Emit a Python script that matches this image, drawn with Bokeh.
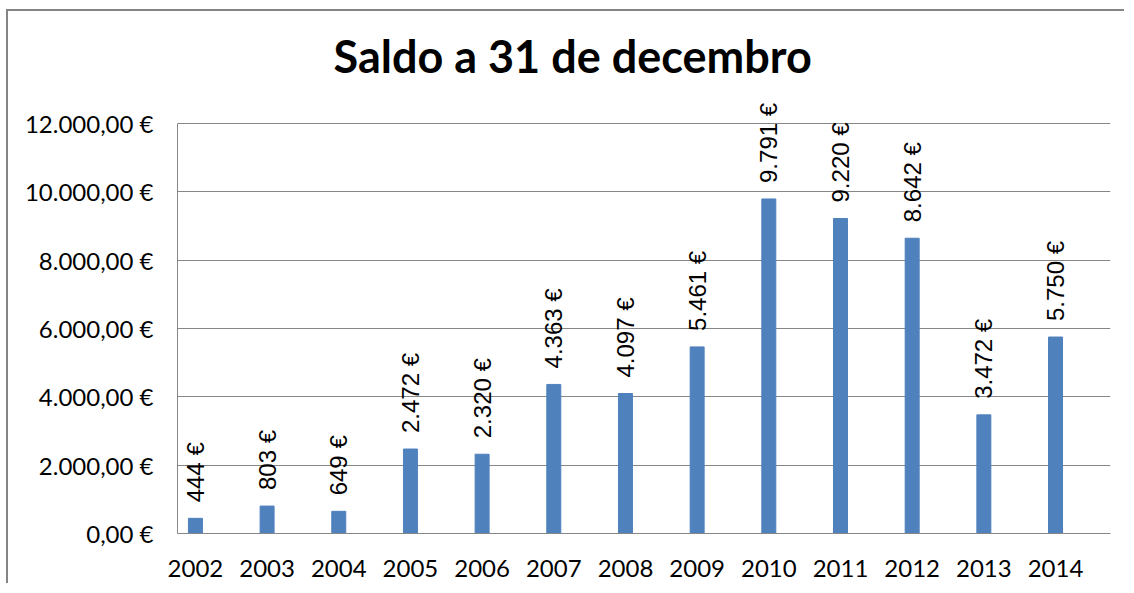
import math
from bokeh.plotting import figure
from bokeh.models import Range1d, FixedTicker, ColumnDataSource
from bokeh.core.properties import value
from bokeh.embed import file_html
from bokeh.resources import INLINE

years = ["2002", "2003", "2004", "2005", "2006", "2007", "2008",
         "2009", "2010", "2011", "2012", "2013", "2014"]
saldo = [444, 803, 649, 2472, 2320, 4363, 4097, 5461, 9791, 9220, 8642, 3472, 5750]
y_ticks = [0, 2000, 4000, 6000, 8000, 10000, 12000]
y_tick_labels = ["0,00 €", "2.000,00 €", "4.000,00 €", "6.000,00 €",
                 "8.000,00 €", "10.000,00 €", "12.000,00 €"]
title_text = "Saldo a 31 de decembro"

def fmt(v):
    return f"{v:,}".replace(",", ".") + " €"

idx = list(range(len(years)))
labels = [fmt(v) for v in saldo]
src = ColumnDataSource(dict(x=idx, y=saldo, lab=labels))

# axis spans 0..12000 over 410 px; extra headroom above 12000 so labels aren't clipped
axis_top = 12000
px_per_unit = 410 / axis_top
y_end = axis_top + 28 / px_per_unit

p = figure(width=1118, height=574, x_range=Range1d(-0.25, len(years) - 1 + 0.767),
           y_range=Range1d(0, y_end), output_backend="svg", toolbar_location=None,
           min_border_left=169, min_border_right=16, min_border_top=84,
           min_border_bottom=52,
           styles={"margin-left": "6px", "margin-top": "9px",
                   "border-left": "2px solid #858585", "border-top": "2px solid #858585"})
p.outline_line_color = None
p.background_fill_color = "white"
p.border_fill_color = "white"

p.title.text = title_text
p.title.text_font = "Lato"
p.title.text_font_style = "bold"
p.title.text_font_size = "45px"
p.title.text_color = "black"
p.title.align = "left"
p.title.offset = 156
p.title.standoff = 26

p.vbar(x="x", top="y", width=0.195, source=src, color="#4F81BD")
p.text(x="x", y="y", text="lab", source=src, angle=math.pi / 2,
       text_align="left", text_baseline="middle", y_offset=-16,
       text_font=value("Liberation Sans"), text_font_size="24px", text_color="black")

p.xgrid.grid_line_color = None
p.ygrid.grid_line_color = "#868686"
p.ygrid.ticker = FixedTicker(ticks=y_ticks)

p.xaxis.ticker = FixedTicker(ticks=idx)
p.xaxis.major_label_overrides = {i: y for i, y in zip(idx, years)}
p.yaxis.ticker = FixedTicker(ticks=y_ticks)
p.yaxis.bounds = (0, axis_top)
p.yaxis.major_label_overrides = {t: l for t, l in zip(y_ticks, y_tick_labels)}
for ax in (p.xaxis, p.yaxis):
    ax.axis_line_color = "#868686"
    ax.major_tick_line_color = None
    ax.minor_tick_line_color = None
    ax.major_tick_out = 0
    ax.major_tick_in = 0
    ax.major_label_text_font = "Lato"
    ax.major_label_text_font_size = "24px"
    ax.major_label_text_color = "black"
p.yaxis.major_label_standoff = 24
p.xaxis.major_label_standoff = 26

open("out.html", "w").write(file_html(p, INLINE))
